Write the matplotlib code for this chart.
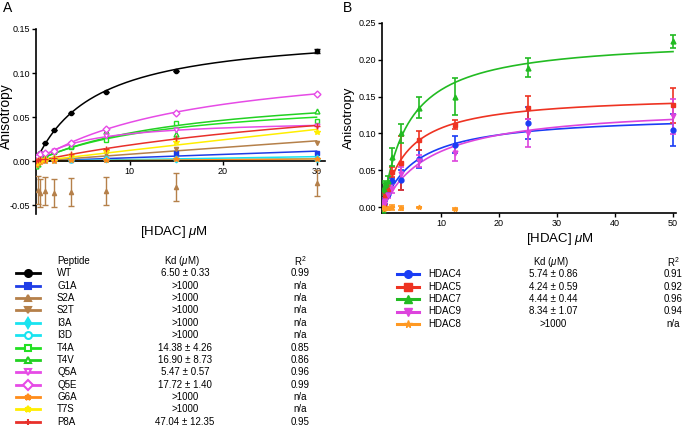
import numpy as np
import matplotlib
matplotlib.use("Agg")
import matplotlib.pyplot as plt

plt.rcParams['font.family'] = ['Liberation Sans', 'DejaVu Sans']
plt.rcParams['mathtext.fontset'] = 'custom'
plt.rcParams['mathtext.rm'] = 'Liberation Sans'
plt.rcParams['mathtext.it'] = 'Liberation Sans:italic'

# ---- panel A data (peptide variants) ----
conc_a = [0, 0.234, 0.469, 0.938, 1.875, 3.75, 7.5, 15, 30]
peptides = ['WT', 'G1A', 'S2A', 'S2T', 'I3A', 'I3D', 'T4A', 'T4V', 'Q5A', 'Q5E', 'G6A', 'T7S', 'P8A']
kd_a = [6.50, 1000, None, 1000, 1000, 1000, 14.38, 16.90, 5.47, 17.72, 1000, 1000, 47.04]
kd_a_txt = ['6.50 ± 0.33', '>1000', '>1000', '>1000', '>1000', '>1000', '14.38 ± 4.26',
            '16.90 ± 8.73', '5.47 ± 0.57', '17.72 ± 1.40', '>1000', '>1000', '47.04 ± 12.35']
r2_a = ['0.99', 'n/a', 'n/a', 'n/a', 'n/a', 'n/a', '0.85', '0.86', '0.96', '0.99', 'n/a', 'n/a', '0.95']

wt = [0.0, 0.005, 0.0095, 0.021, 0.035, 0.055, 0.078, 0.1025, 0.125]
g1a = [0.001, -0.001, 0.002, 0.003, 0.003, 0.001, 0.003, 0.009, 0.0095]
s2a = [np.nan, -0.033, -0.036, -0.034, -0.036, -0.035, -0.034, -0.029, -0.025]
s2t = [0.0, -0.002, 0.0, 0.001, 0.003, 0.005, 0.008, 0.014, 0.021]
i3a = [0.002, 0.001, 0.002, 0.002, 0.002, 0.003, 0.003, 0.003, 0.004]
i3d = [0.001, 0.0, 0.001, 0.001, 0.001, 0.001, 0.002, 0.002, 0.002]
t4a = [-0.002, 0.001, 0.003, 0.005, 0.010, 0.016, 0.024, 0.043, 0.046]
t4v = [-0.006, -0.003, 0.002, 0.006, 0.012, 0.017, 0.034, 0.031, 0.057]
q5a = [0.0, 0.003, 0.005, 0.008, 0.012, 0.020, 0.028, 0.035, 0.040]
q5e = [0.004, 0.006, 0.008, 0.009, 0.012, 0.021, 0.037, 0.055, 0.076]
g6a = [-0.004, -0.002, -0.001, 0.0, 0.0, 0.001, 0.001, 0.002, 0.002]
t7s = [-0.002, 0.0, 0.001, 0.002, 0.004, 0.007, 0.012, 0.022, 0.033]
p8a = [0.0, 0.001, 0.002, 0.003, 0.004, 0.008, 0.014, 0.026, 0.040]
s2a_err = [0, 0.016, 0.016, 0.016, 0.016, 0.016, 0.016, 0.016, 0.015]
wt_err = [0, 0, 0, 0, 0, 0, 0, 0, 0.002]

# ---- panel B data (HDAC isoforms) ----
conc_b = [0, 0.195, 0.39, 0.78, 1.5625, 3.125, 6.25, 12.5, 25, 50]
hdacs = ['HDAC4', 'HDAC5', 'HDAC7', 'HDAC9', 'HDAC8']
kd_b = [5.74, 4.24, 4.44, 8.34, None]
kd_b_txt = ['5.74 ± 0.86', '4.24 ± 0.59', '4.44 ± 0.44', '8.34 ± 1.07', '>1000']
r2_b = ['0.91', '0.92', '0.96', '0.94', 'n/a']

hdac4 = [-0.002, 0.005, 0.012, 0.018, 0.035, 0.037, 0.065, 0.085, 0.114, 0.105]
hdac4_err = [0.004, 0.004, 0.004, 0.004, 0.004, 0.014, 0.012, 0.012, 0.022, 0.022]
hdac5 = [0.0, 0.005, 0.015, 0.025, 0.048, 0.060, 0.091, 0.112, 0.135, 0.138]
hdac5_err = [0.003, 0.004, 0.004, 0.005, 0.007, 0.036, 0.013, 0.006, 0.016, 0.024]
hdac7 = [-0.003, 0.025, 0.030, 0.035, 0.068, 0.100, 0.135, 0.150, 0.189, 0.225]
hdac7_err = [0.003, 0.008, 0.005, 0.008, 0.012, 0.013, 0.014, 0.025, 0.013, 0.009]
hdac9 = [0.005, 0.004, 0.008, 0.017, 0.025, 0.045, 0.063, 0.074, 0.101, 0.123]
hdac9_err = [0.005, 0.004, 0.004, 0.005, 0.006, 0.010, 0.008, 0.011, 0.019, 0.024]
hdac8 = [0.0, -0.002, -0.001, -0.001, 0.0, -0.001, 0.0, -0.002, np.nan, np.nan]
hdac8_err = [0.002, 0.002, 0.002, 0.002, 0.003, 0.003, 0.001, 0.001, 0, 0]

# styles
colors_a = ['black', '#1f3de6', '#b5804a', '#b5804a', '#19e3f0', '#19e3f0', '#22e022',
            '#22d022', '#e64be6', '#e64be6', '#ff8c1a', '#ffee00', '#e8302a']
markers_a = ['o', 's', '^', 'v', 'd', 'o', 's', '^', 'v', 'D', '*', '*', '+']
filled_a = [True, True, True, True, True, False, False, False, False, False, True, True, True]
sizes_a = [3, 3.5, 3, 3, 3.5, 3.5, 3.5, 3.5, 3.5, 3.5, 4, 4, 4]
colors_b = ['#1a3df5', '#ee3322', '#22bb22', '#dd44dd', '#ff9922']
markers_b = ['o', 's', '^', 'v', '*']

W, H = 683, 426


def one_site(x, kd, y):
    # fit Bmax for a one-site binding model with fixed Kd
    x = np.asarray(x, float)
    y = np.asarray(y, float)
    ok = ~np.isnan(y)
    f = x[ok] / (kd + x[ok])
    return np.sum(f * y[ok]) / np.sum(f * f)


fig = plt.figure(figsize=(W / 100, H / 100), dpi=100)

# ---------------- panel A ----------------
axA = fig.add_axes([36 / W, 1 - 214 / H, (325 - 36) / W, (214 - 29) / H])
series_a = [wt, g1a, s2a, s2t, i3a, i3d, t4a, t4v, q5a, q5e, g6a, t7s, p8a]
xs = np.linspace(0, 30, 200)
for i, y in enumerate(series_a):
    c = colors_a[i]
    if kd_a[i] is not None:
        bmax = one_site(conc_a, kd_a[i], y)
        axA.plot(xs, bmax * xs / (kd_a[i] + xs), color=c, lw=1.1, zorder=2)
    mfc = c if filled_a[i] else 'white'
    err = s2a_err if i == 2 else (wt_err if i == 0 else None)
    axA.errorbar(conc_a, y, yerr=err, fmt=markers_a[i], color=c, mfc=mfc, mec=c,
                 ms=sizes_a[i], mew=1.0, capsize=2, elinewidth=1, capthick=1, zorder=3)

axA.set_xlim(0, 30.9)
axA.set_ylim(-0.06, 0.15)
axA.spines['top'].set_visible(False)
axA.spines['right'].set_visible(False)
axA.spines['bottom'].set_position(('data', 0))
axA.spines['bottom'].set_linewidth(1.2)
axA.spines['left'].set_linewidth(1.2)
axA.set_xticks([10, 20, 30])
axA.set_yticks([-0.05, 0.0, 0.05, 0.10, 0.15])
axA.set_yticklabels(['-0.05', '0.00', '0.05', '0.10', '0.15'])
axA.tick_params(labelsize=6.5, length=3, width=1, pad=1.5)

# ---------------- panel B ----------------
axB = fig.add_axes([382.4 / W, 1 - 213.2 / H, (675.9 - 382.4) / W, (213.2 - 22.7) / H])
series_b = [hdac4, hdac5, hdac7, hdac9, hdac8]
errs_b = [hdac4_err, hdac5_err, hdac7_err, hdac9_err, hdac8_err]
xs = np.linspace(0, 50, 300)
for i, y in enumerate(series_b):
    c = colors_b[i]
    if kd_b[i] is not None:
        bmax = one_site(conc_b, kd_b[i], y)
        axB.plot(xs, bmax * xs / (kd_b[i] + xs), color=c, lw=1.2, zorder=2)
    axB.errorbar(conc_b, y, yerr=errs_b[i], fmt=markers_b[i], color=c, ms=3.5,
                 capsize=2.5, elinewidth=1.2, capthick=1.2, zorder=3)

axB.set_xlim(-0.1, 50.5)
axB.set_ylim(-0.008, 0.25)
axB.spines['top'].set_visible(False)
axB.spines['right'].set_visible(False)
axB.spines['bottom'].set_linewidth(1.2)
axB.spines['left'].set_linewidth(1.2)
axB.set_xticks([10, 20, 30, 40, 50])
axB.set_yticks([0, 0.05, 0.10, 0.15, 0.20, 0.25])
axB.set_yticklabels(['0.00', '0.05', '0.10', '0.15', '0.20', '0.25'])
axB.tick_params(labelsize=6.5, length=3, width=1, pad=1.5)

# ---------------- labels and tables (pixel layout) ----------------
ov = fig.add_axes([0, 0, 1, 1])
ov.set_xlim(0, W)
ov.set_ylim(H, 0)
ov.axis('off')
ov.patch.set_visible(False)

ov.text(3, 8, 'A', fontsize=10, va='center')
ov.text(343, 8, 'B', fontsize=10, va='center')
ov.text(6, 116, 'Anisotropy', fontsize=10, rotation=90, ha='center', va='center')
ov.text(349, 118, 'Anisotropy', fontsize=9.5, rotation=90, ha='center', va='center')
ov.text(174, 232, '[HDAC] $\\mu$M', fontsize=9.5, ha='center', va='center')
ov.text(560, 239, '[HDAC] $\\mu$M', fontsize=9.5, ha='center', va='center')

fs = 7
ov.text(57, 261, 'Peptide', fontsize=fs, va='center')
ov.text(182, 261, 'Kd ($\\mu$M)', fontsize=fs, va='center', ha='center')
ov.text(300, 261, 'R$^2$', fontsize=fs, va='center', ha='center')
for i, name in enumerate(peptides):
    yy = 273.3 + i * 12.37
    c = colors_a[i]
    ov.plot([16, 40], [yy, yy], color=c, lw=2)
    ov.plot([28], [yy], marker=markers_a[i], color=c, mfc=c if filled_a[i] else 'white',
            mec=c, ms=5, mew=1.5)
    ov.text(57, yy, name, fontsize=fs, va='center')
    ov.text(185, yy, kd_a_txt[i], fontsize=fs, va='center', ha='center')
    ov.text(300, yy, r2_a[i], fontsize=fs, va='center', ha='center')

ov.text(551, 262, 'Kd ($\\mu$M)', fontsize=fs, va='center', ha='center')
ov.text(673, 262, 'R$^2$', fontsize=fs, va='center', ha='center')
for i, name in enumerate(hdacs):
    yy = 274 + i * 12.5
    c = colors_b[i]
    ov.plot([397, 419], [yy, yy], color=c, lw=2.2)
    ov.plot([408], [yy], marker=markers_b[i], color=c, ms=5.5)
    ov.text(428, yy, name, fontsize=fs, va='center')
    ov.text(553, yy, kd_b_txt[i], fontsize=fs, va='center', ha='center')
    ov.text(673, yy, r2_b[i], fontsize=fs, va='center', ha='center')

fig.savefig('out.png', dpi=100)
